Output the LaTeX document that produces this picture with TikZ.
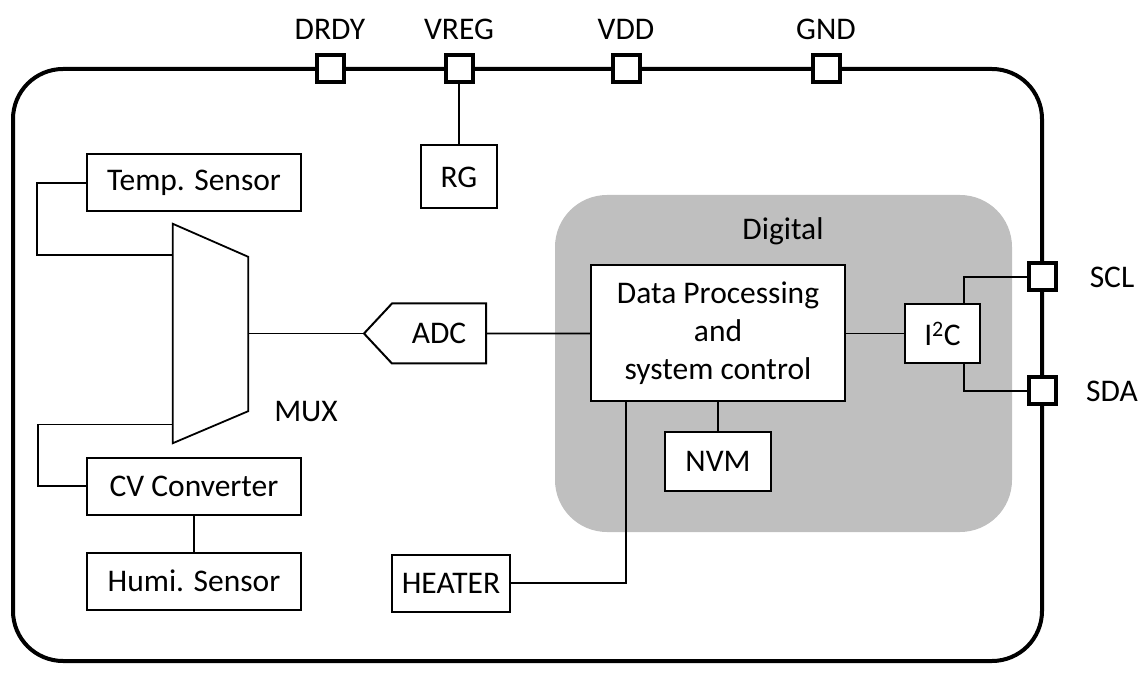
\documentclass[tikz,border=0pt]{standalone}
\usepackage{fontspec}
\setmainfont{Carlito}
\usetikzlibrary{positioning,shapes.symbols}
\definecolor{digitalgray}{RGB}{191,191,191}

\begin{document}
\begin{tikzpicture}[
  x=1pt, y=1pt,
  block/.style={rectangle, draw, fill=white, line width=2pt, inner sep=0pt},
  sensor/.style={block, minimum width=214pt, minimum height=57pt},
  padbox/.style={rectangle, draw, fill=white, line width=4pt, minimum size=27pt, inner sep=0pt},
  wire/.style={line width=1.8pt},
  node distance=40pt,
  font=\fontsize{31.5}{38}\selectfont
]
\useasboundingbox (0,0) rectangle (1141,673);

% Chip outline and digital area
\node[draw, line width=4pt, rounded corners=50pt, minimum width=1029pt, minimum height=592pt] (chip) at (527.5,308) {};
\node[fill=digitalgray, rounded corners=52pt, minimum width=457pt, minimum height=337pt] (digital) at (783.5,309.5) {};
\node (digitallabel) at (783,442) {Digital};

% Pads
\node[padbox] (drdy) at (330,604) {};
\node[padbox] (vreg) at (459,604) {};
\node[padbox] (vdd) at (626,604) {};
\node[padbox] (gnd) at (826,604) {};
\node[padbox] (scl) at (1042,396) {};
\node[padbox] (sda) at (1042,282) {};
\node[above of=drdy] (drdylabel) {DRDY};
\node[above of=vreg] (vreglabel) {VREG};
\node[above of=vdd] (vddlabel) {VDD};
\node[above of=gnd] (gndlabel) {GND};
\node[right of=scl, node distance=70pt] (scllabel) {SCL};
\node[right of=sda, node distance=70pt] (sdalabel) {SDA};

% Analog front end
\node[block, below of=vreg, node distance=108pt, minimum width=76pt, minimum height=63pt] (rg) {RG};
\node[sensor] (temp) at (194,490) {Temp. Sensor};
\node[sensor] (cv) at (194,187) {CV Converter};
\node[sensor, below of=cv, node distance=95pt] (humi) {Humi. Sensor};
\node[minimum width=75pt, minimum height=219pt, inner sep=0pt] (mux) at (210.5,339.5) {};
\draw[wire] (mux.north west) -- ([yshift=-33pt]mux.north east) -- ([yshift=32pt]mux.south east) -- (mux.south west) -- cycle;
\node (muxlabel) at (306,261) {MUX};
\node[draw, fill=white, line width=2pt, signal, signal to=west, signal pointer angle=94,
  minimum width=122pt, minimum height=60pt, inner sep=0pt, anchor=east] (adc) at (487,339.5) {ADC};
\node[block, minimum width=118pt, minimum height=57pt] (heater) at (451,90) {HEATER};

% Digital part
\node[block, minimum width=254pt, minimum height=136pt, align=center] (data) at (718,339.5) {Data Processing\\and\\system control};
\node[block, below of=data, node distance=128pt, minimum width=106pt, minimum height=59pt] (nvm) {NVM};
\node[block, minimum width=75pt, minimum height=59pt] (i2c) at (942.5,339.5) {I\textsuperscript{2}C};

% Wiring
\draw[wire] (vreg) -- (rg);
\draw[wire] (temp.west) -- ++(-49,0) |- ([yshift=78.5pt]mux.west);
\draw[wire] (cv.west) -- ++(-48,0) |- ([yshift=-91pt]mux.west);
\draw[wire] (cv) -- (humi);
\draw[wire] (mux.east) -- (adc.west);
\draw[wire] (adc) -- (data);
\draw[wire] (data) -- (i2c);
\draw[wire] (data) -- (nvm);
\draw[wire] ([xshift=21.5pt]i2c.north) |- (scl.west);
\draw[wire] ([xshift=21.5pt]i2c.south) |- (sda.west);
\draw[wire] (heater.east) -| ([xshift=36pt]data.south west);
\end{tikzpicture}
\end{document}
